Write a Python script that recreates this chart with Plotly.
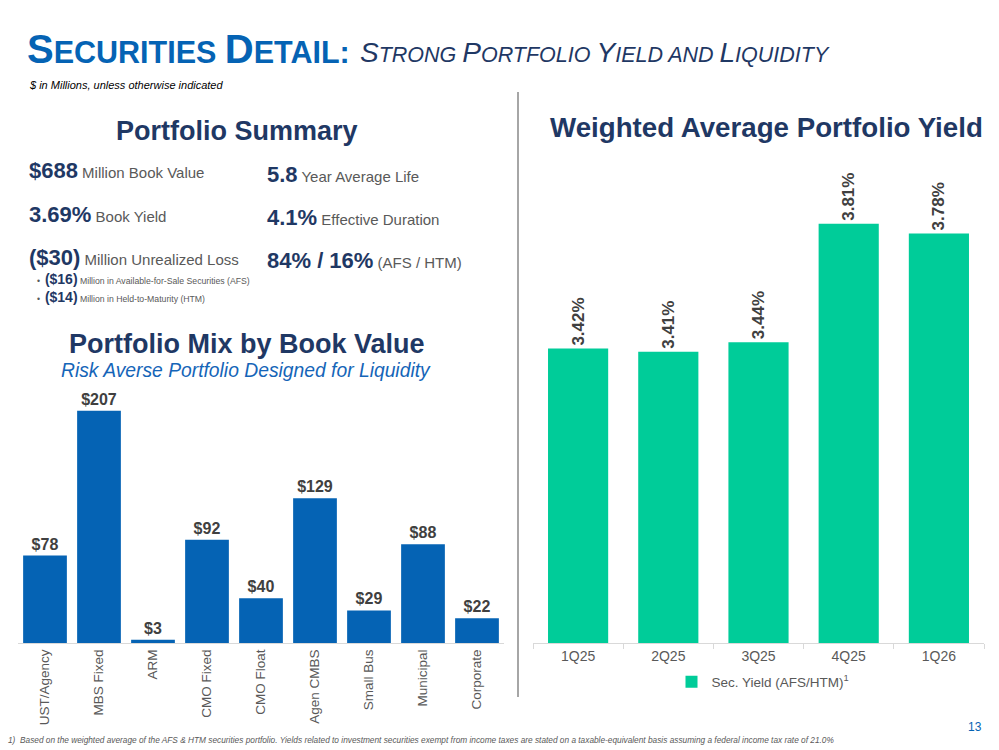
import plotly.graph_objects as go

W, H = 999, 750

# ---- data ----
mix_categories = ["UST/Agency", "MBS Fixed", "ARM", "CMO Fixed", "CMO Float",
                  "Agen CMBS", "Small Bus", "Municipal", "Corporate"]
mix_values = [78, 207, 3, 92, 40, 129, 29, 88, 22]

yield_quarters = ["1Q25", "2Q25", "3Q25", "4Q25", "1Q26"]
yield_values = [3.42, 3.41, 3.44, 3.81, 3.78]

BLUE = "#0563B4"
NAVY = "#1F3864"
GREEN = "#00CC99"
GRAY = "#595959"
DARK = "#404040"
FONT = "Liberation Sans, Arial, sans-serif"


def px(x):
    return x / W


def py(y):
    return 1 - y / H


fig = go.Figure()

fig.add_trace(go.Bar(
    x=mix_categories, y=mix_values,
    text=[f"${v}" for v in mix_values], textposition="outside",
    texttemplate="<b>%{text}</b>",
    textfont=dict(family=FONT, size=16, color=DARK),
    marker=dict(color=BLUE, line=dict(width=0)),
    width=0.81, cliponaxis=False, showlegend=False,
    xaxis="x", yaxis="y", hoverinfo="skip",
))

fig.add_trace(go.Bar(
    x=yield_quarters, y=yield_values,
    text=[f"{v:.2f}%" for v in yield_values], textposition="outside",
    texttemplate="<b>%{text}</b>",
    textangle=-90,
    textfont=dict(family=FONT, size=17, color=DARK),
    marker=dict(color=GREEN, line=dict(width=0)),
    width=0.667, cliponaxis=False,
    name="Sec. Yield (AFS/HTM)<sup>1</sup>", showlegend=True,
    xaxis="x2", yaxis="y2", hoverinfo="skip",
))

fig.update_layout(
    width=W, height=H,
    margin=dict(l=0, r=0, t=0, b=0),
    paper_bgcolor="white", plot_bgcolor="white",
    font=dict(family=FONT, color=GRAY),
    xaxis=dict(domain=[px(18), px(504)], anchor="y", tickangle=-90,
               tickfont=dict(size=13.5, color=GRAY), showline=True,
               linecolor="#D9D9D9", linewidth=1, ticks="", showgrid=False,
               fixedrange=True),
    yaxis=dict(domain=[py(643), py(385)], range=[0, 230], anchor="x",
               visible=False, showgrid=False, zeroline=False),
    xaxis2=dict(domain=[px(533), px(984)], anchor="y2",
                tickfont=dict(size=14, color=GRAY), showline=True,
                linecolor="#D9D9D9", linewidth=1, ticks="outside",
                tickson="boundaries", ticklen=5, tickcolor="#D9D9D9",
                showgrid=False),
    yaxis2=dict(domain=[py(643), py(163)], range=[2.5, 4.0], anchor="x2",
                visible=False, showgrid=False, zeroline=False),
    legend=dict(orientation="h", x=px(763), xanchor="center",
                y=py(682), yanchor="middle",
                font=dict(size=13.5, color=GRAY, family=FONT),
                bgcolor="rgba(0,0,0,0)"),
)

ann = []


def add(text, x, y, size, color, xanchor="left", yanchor="middle", **kw):
    ann.append(dict(text=text, x=px(x), y=py(y), xref="paper", yref="paper",
                    xanchor=xanchor, yanchor=yanchor, showarrow=False,
                    font=dict(family=FONT, size=size, color=color), **kw))


# Title
add('<b><span style="font-size:40px">S</span>ECURITIES '
    '<span style="font-size:40px">D</span>ETAIL:</b>',
    25, 49, 30.5, BLUE)
add('<i><span style="font-size:28px">S</span>TRONG '
    '<span style="font-size:28px">P</span>ORTFOLIO '
    '<span style="font-size:28px">Y</span>IELD AND '
    '<span style="font-size:28px">L</span>IQUIDITY</i>',
    358, 53, 21.5, NAVY)
add("<i>$ in Millions, unless otherwise indicated</i>", 27, 85, 11, "#000000")

# Portfolio summary
add("<b>Portfolio Summary</b>", 237, 131, 27, NAVY, xanchor="center")
add(f'<b><span style="font-size:22px;color:{NAVY}">$688</span></b> Million Book Value',
    27, 171, 15, GRAY)
add(f'<b><span style="font-size:22px;color:{NAVY}">3.69%</span></b> Book Yield',
    27, 214, 15, GRAY)
add(f'<b><span style="font-size:22px;color:{NAVY}">($30)</span></b> Million Unrealized Loss',
    27, 257, 15, GRAY)
add(f'•  <b><span style="font-size:14px;color:{NAVY}">($16)</span></b> Million in Available-for-Sale Securities (AFS)',
    35, 279, 8.7, GRAY)
add(f'•  <b><span style="font-size:14px;color:{NAVY}">($14)</span></b> Million in Held-to-Maturity (HTM)',
    35, 297, 8.7, GRAY)
add(f'<b><span style="font-size:22px;color:{NAVY}">5.8</span></b> Year Average Life',
    265, 174, 15, GRAY)
add(f'<b><span style="font-size:22px;color:{NAVY}">4.1%</span></b> Effective Duration',
    265, 217, 15, GRAY)
add(f'<b><span style="font-size:22px;color:{NAVY}">84% / 16%</span></b> (AFS / HTM)',
    265, 260, 15, GRAY)

# Portfolio mix headings
add("<b>Portfolio Mix by Book Value</b>", 247, 344, 27, NAVY, xanchor="center")
add("<i>Risk Averse Portfolio Designed for Liquidity</i>", 246, 371, 19.3,
    "#1565B8", xanchor="center")

# Right heading
add("<b>Weighted Average Portfolio Yield</b>", 766, 128, 27.7, NAVY,
    xanchor="center")

# Footnote and page number
add("<i>1)  Based on the weighted average of the AFS &amp; HTM securities portfolio. "
    "Yields related to investment securities exempt from income taxes are stated on a "
    "taxable-equivalent basis assuming a federal income tax rate of 21.0%</i>",
    6, 740, 8.3, GRAY)
add("13", 975, 727, 12, BLUE, xanchor="center")

fig.update_layout(annotations=ann)

fig.add_shape(type="line", xref="paper", yref="paper",
              x0=px(518), x1=px(518), y0=py(92), y1=py(697),
              line=dict(color="#A6A6A6", width=2))

fig.write_html("out.html")
